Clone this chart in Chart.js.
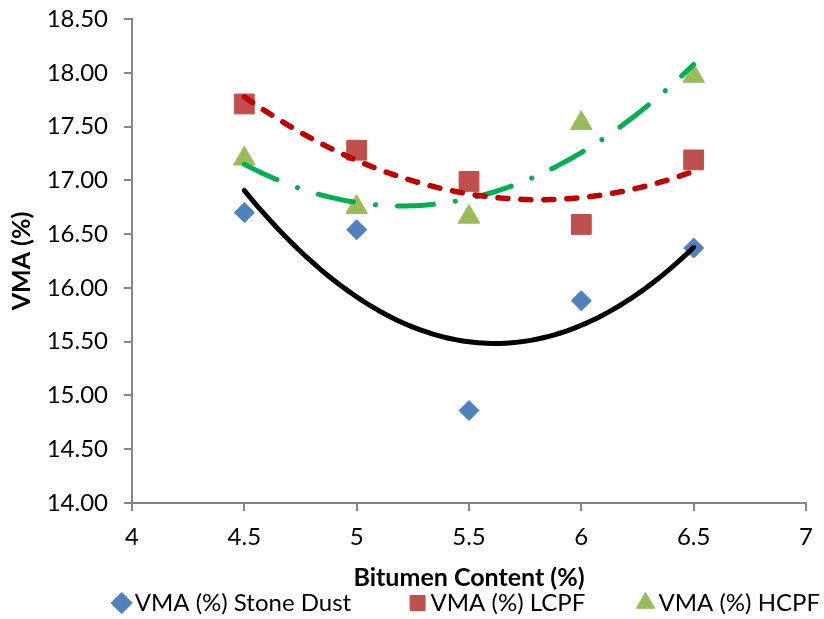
<!DOCTYPE html>
<html>
<head>
<meta charset="utf-8">
<title>VMA vs Bitumen Content</title>
<script src="https://cdn.jsdelivr.net/npm/chart.js@4/dist/chart.umd.min.js"></script>
<style>
  html, body { margin: 0; padding: 0; background: #ffffff; }
  #wrap { width: 824px; height: 619px; }
</style>
</head>
<body>
<div id="wrap"><canvas id="chart" width="824" height="619"></canvas></div>
<script>
// Bitumen content (%) of the mixes
const bitumenContent = [4.5, 5.0, 5.5, 6.0, 6.5];

// Voids in mineral aggregate (%) for each filler type
const vmaStoneDust = [16.70, 16.54, 14.86, 15.88, 16.37];
const vmaLCPF      = [17.71, 17.28, 16.99, 16.59, 17.19];
const vmaHCPF      = [17.20, 16.75, 16.66, 17.53, 17.97];

const seriesNames = ['VMA (%) Stone Dust', 'VMA (%) LCPF', 'VMA (%) HCPF'];

// Axis tick values
const xTickValues = [4, 4.5, 5, 5.5, 6, 6.5, 7];
const yTickValues = [14.0, 14.5, 15.0, 15.5, 16.0, 16.5, 17.0, 17.5, 18.0, 18.5];

// Second-order polynomial trendline (least squares) through a series
function quadraticFit(xs, ys) {
  const n = xs.length;
  let s1 = 0, s2 = 0, s3 = 0, s4 = 0, t0 = 0, t1 = 0, t2 = 0;
  for (let i = 0; i < n; i++) {
    const x = xs[i], y = ys[i];
    s1 += x; s2 += x * x; s3 += x * x * x; s4 += x * x * x * x;
    t0 += y; t1 += x * y; t2 += x * x * y;
  }
  const det3 = (m) =>
    m[0][0] * (m[1][1] * m[2][2] - m[1][2] * m[2][1]) -
    m[0][1] * (m[1][0] * m[2][2] - m[1][2] * m[2][0]) +
    m[0][2] * (m[1][0] * m[2][1] - m[1][1] * m[2][0]);
  const A = [[n, s1, s2], [s1, s2, s3], [s2, s3, s4]];
  const r = [t0, t1, t2];
  const D = det3(A);
  const coef = [0, 1, 2].map(k => {
    const M = A.map((row, i) => row.map((v, j) => (j === k ? r[i] : v)));
    return det3(M) / D;
  });
  return x => coef[0] + coef[1] * x + coef[2] * x * x;
}

function trendPoints(xs, ys) {
  const f = quadraticFit(xs, ys);
  const x0 = xs[0], x1 = xs[xs.length - 1];
  const steps = 100;
  const pts = [];
  for (let i = 0; i <= steps; i++) {
    const x = x0 + (x1 - x0) * i / steps;
    pts.push({ x: x, y: f(x) });
  }
  return pts;
}

const toXY = ys => bitumenContent.map((x, i) => ({ x: x, y: ys[i] }));

const FONT = 'Lato, "Liberation Sans", Arial, sans-serif';
const AXIS_GREY = '#868686';
// blank space that separates consecutive legend entries
const legendGaps = [' '.repeat(10), ' '.repeat(9), ''];

Chart.defaults.font.family = FONT;
Chart.defaults.color = '#000000';

const trendStyle = {
  type: 'line',
  showLine: true,
  fill: false,
  pointRadius: 0,
  pointHoverRadius: 0,
  tension: 0,
  borderCapStyle: 'round',
  borderJoinStyle: 'round',
  order: 1
};

new Chart(document.getElementById('chart'), {
  type: 'scatter',
  data: {
    datasets: [
      {
        label: seriesNames[0],
        data: toXY(vmaStoneDust),
        pointStyle: 'rectRot',
        pointRadius: 10,
        backgroundColor: '#4F81BD',
        borderColor: '#4F81BD',
        borderWidth: 1,
        order: 2
      },
      {
        label: seriesNames[1],
        data: toXY(vmaLCPF),
        pointStyle: 'rect',
        pointRadius: 14,
        backgroundColor: '#C0504D',
        borderColor: '#C0504D',
        borderWidth: 1,
        order: 2
      },
      {
        label: seriesNames[2],
        data: toXY(vmaHCPF),
        pointStyle: 'triangle',
        pointRadius: 12.5,
        backgroundColor: '#9BBB59',
        borderColor: '#9BBB59',
        borderWidth: 1,
        order: 2
      },
      Object.assign({}, trendStyle, {
        label: 'trend-stone-dust',
        data: trendPoints(bitumenContent, vmaStoneDust),
        borderColor: '#000000',
        borderWidth: 5
      }),
      Object.assign({}, trendStyle, {
        label: 'trend-lcpf',
        data: trendPoints(bitumenContent, vmaLCPF),
        borderColor: '#C00000',
        borderWidth: 5.5,
        borderDash: [10, 13]
      }),
      Object.assign({}, trendStyle, {
        label: 'trend-hcpf',
        data: trendPoints(bitumenContent, vmaHCPF),
        borderColor: '#00B050',
        borderWidth: 5,
        borderDash: [36, 22, 0.1, 22]
      })
    ]
  },
  options: {
    responsive: false,
    animation: false,
    events: [],
    layout: { padding: { left: 0, right: 0, top: 19, bottom: 0 } },
    scales: {
      x: {
        type: 'linear',
        position: 'bottom',
        min: 4,
        max: 7,
        afterBuildTicks: s => { s.ticks = xTickValues.map(v => ({ value: v })); },
        afterFit: s => {
          s.height = 84;
          s.paddingLeft = 0;
          s.paddingRight = 18;
        },
        border: { display: true, color: AXIS_GREY, width: 2 },
        grid: { drawOnChartArea: false, drawTicks: true, tickLength: 8, color: AXIS_GREY, lineWidth: 2 },
        ticks: {
          font: { family: FONT, size: 24 },
          color: '#000000',
          padding: 12,
          maxRotation: 0,
          callback: v => String(v)
        },
        title: {
          display: true,
          text: 'Bitumen Content (%)',
          color: '#000000',
          font: { family: FONT, size: 25, weight: 'bold', lineHeight: 1 },
          padding: { top: 0, bottom: -3 }
        }
      },
      y: {
        type: 'linear',
        min: 14,
        max: 18.5,
        afterBuildTicks: s => { s.ticks = yTickValues.map(v => ({ value: v })); },
        afterFit: s => {
          s.width = 132;
          s.paddingTop = 0;
          s.paddingBottom = 0;
        },
        border: { display: true, color: AXIS_GREY, width: 2 },
        grid: { drawOnChartArea: false, drawTicks: true, tickLength: 8, color: AXIS_GREY, lineWidth: 2 },
        ticks: {
          font: { family: FONT, size: 24 },
          color: '#000000',
          padding: 16,
          callback: v => Number(v).toFixed(2)
        },
        title: {
          display: true,
          text: 'VMA (%)',
          color: '#000000',
          font: { family: FONT, size: 25, weight: 'bold', lineHeight: 1 },
          padding: { top: 9, bottom: 0 }
        }
      }
    },
    plugins: {
      tooltip: { enabled: false },
      legend: {
        display: true,
        position: 'bottom',
        align: 'end',
        maxHeight: 32,
        labels: {
          usePointStyle: true,
          boxWidth: 2,
          boxHeight: 15,
          padding: 4,
          color: '#000000',
          font: { family: FONT, size: 24 },
          generateLabels: chart => {
            const items = Chart.defaults.plugins.legend.labels.generateLabels(chart)
              .filter(it => it.datasetIndex < 3);
            return items.map((it, i) => {
              it.text = it.text + legendGaps[i];
              return it;
            });
          }
        }
      }
    }
  }
});
</script>
</body>
</html>
